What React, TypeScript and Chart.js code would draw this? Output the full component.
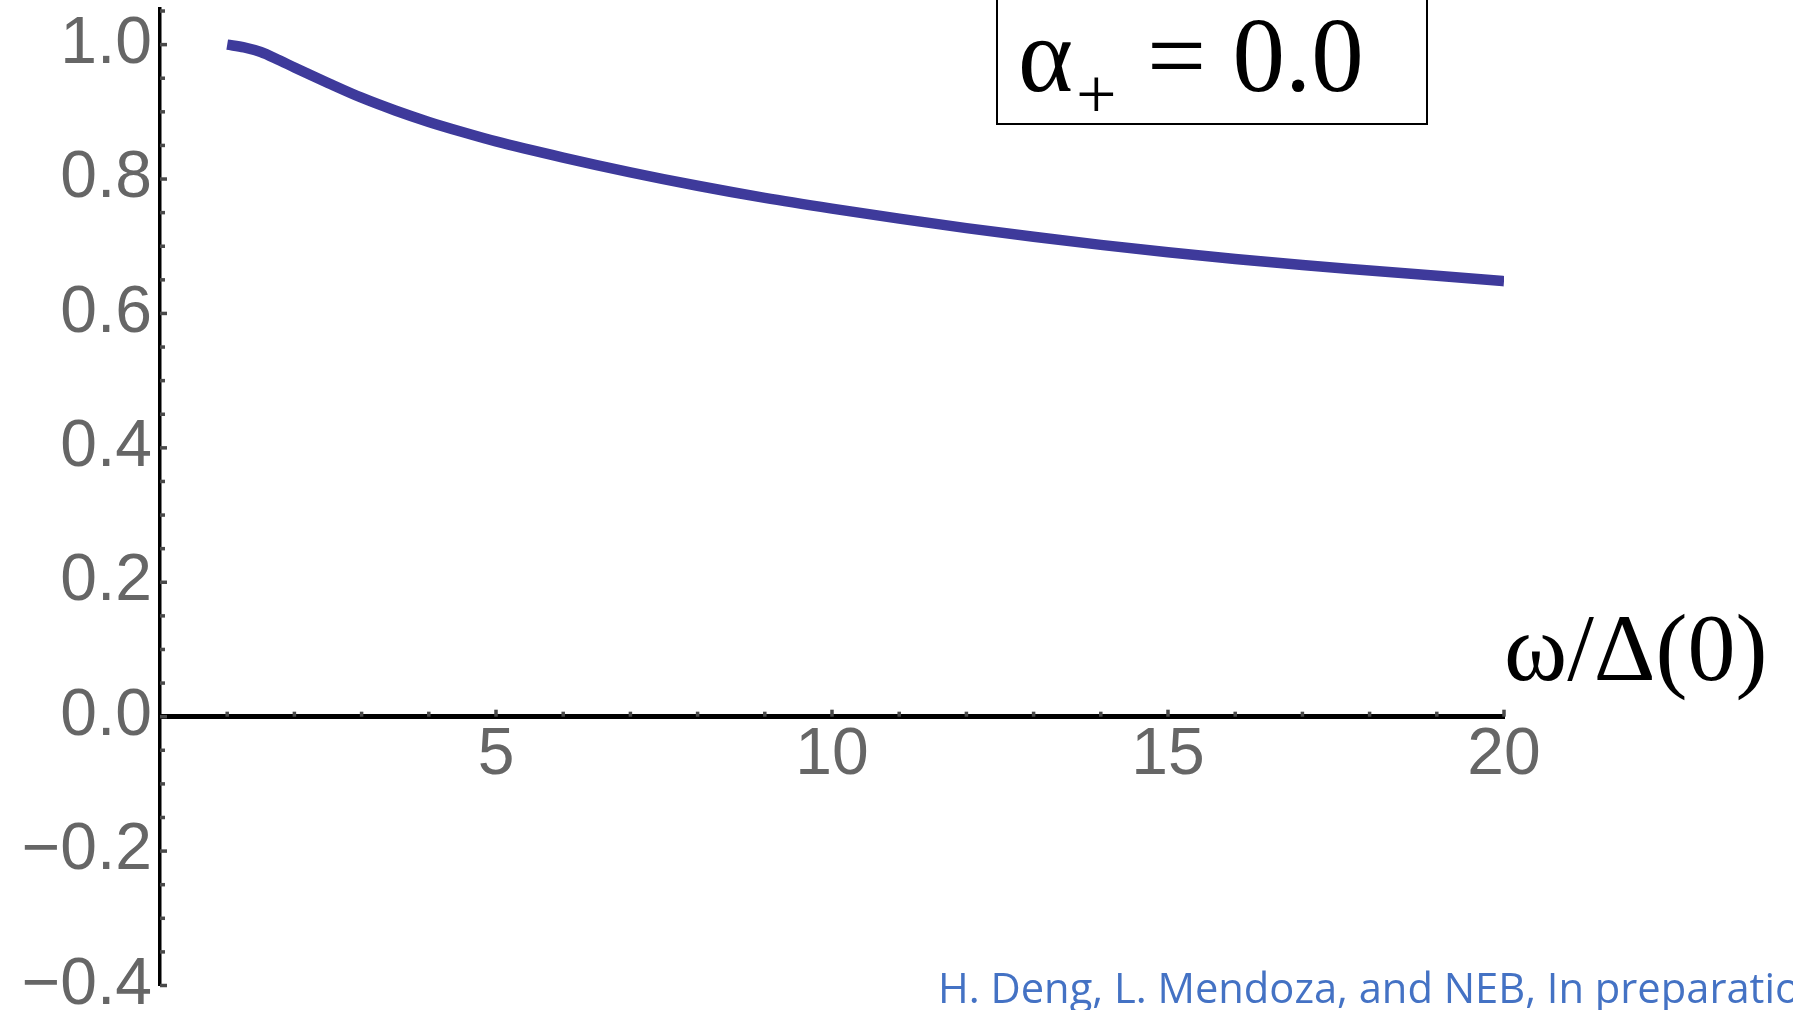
import React, { useEffect, useRef } from "react";
import { Chart, registerables } from "chart.js";

Chart.register(...registerables);

// Normalised response vs. reduced frequency ω/Δ(0)
const omega = [
  1, 1.25, 1.5, 1.75, 2, 2.5, 3, 3.5, 4, 4.5, 5, 6, 7, 8, 9, 10, 11, 12, 13, 14, 15, 16, 17, 18, 19, 20,
];
const response = [
  1.0, 0.996, 0.989, 0.978, 0.966, 0.943, 0.921, 0.902, 0.885, 0.87, 0.856, 0.832, 0.81, 0.79, 0.772, 0.756,
  0.741, 0.727, 0.714, 0.702, 0.691, 0.681, 0.672, 0.664, 0.656, 0.648,
];

// Axis ticks
const yMajorTicks = [-0.4, -0.2, 0, 0.2, 0.4, 0.6, 0.8, 1.0];
const yMinorStep = 0.05;
const xMajorTicks = [5, 10, 15, 20];
const xMinorStep = 1;

// Texts
const xAxisTitle = "ω/Δ(0)";
const paramSymbol = "α";
const paramSubscript = "+";
const paramValue = "= 0.0";
const citation = "H. Deng, L. Mendoza, and NEB, In preparation";

const W = 1793;
const H = 1010;

const fmtY = (v: number) => {
  const r = Math.round(v * 10) / 10;
  return (r < 0 ? "\u2212" : "") + Math.abs(r).toFixed(1);
};

const decorations = {
  id: "decorations",
  afterDraw(chart: any) {
    const { ctx, scales } = chart;
    const xs = scales.x;
    const ys = scales.y;
    const x0 = xs.getPixelForValue(0);
    const y0 = ys.getPixelForValue(0);

    ctx.save();
    // minor / major tick marks pointing into the plot
    ctx.strokeStyle = "#4a4a4a";
    ctx.lineWidth = 3.5;
    const yMin = ys.min;
    const yMax = ys.max;
    for (let k = Math.ceil(yMin / yMinorStep - 1e-6); k * yMinorStep <= yMax + 1e-6; k++) {
      const v = k * yMinorStep;
      const major = yMajorTicks.some((t) => Math.abs(t - v) < 1e-6);
      const py = ys.getPixelForValue(v);
      ctx.beginPath();
      ctx.moveTo(x0, py);
      ctx.lineTo(x0 + (major ? 7 : 5), py);
      ctx.stroke();
    }
    for (let k = 1; k * xMinorStep <= xs.max + 1e-6; k++) {
      const v = k * xMinorStep;
      const major = xMajorTicks.some((t) => Math.abs(t - v) < 1e-6);
      const px = xs.getPixelForValue(v);
      ctx.beginPath();
      ctx.moveTo(px, y0);
      ctx.lineTo(px, y0 - (major ? 7 : 5));
      ctx.stroke();
    }

    // horizontal axis title
    ctx.fillStyle = "#000";
    ctx.textBaseline = "alphabetic";
    ctx.textAlign = "left";
    ctx.font = '96px "Liberation Serif", "Times New Roman", serif';
    ctx.fillText(xAxisTitle, 1504, 680);

    // parameter box
    ctx.strokeStyle = "#000";
    ctx.lineWidth = 2;
    ctx.strokeRect(997, -10, 430, 134);
    ctx.font = '105px "Liberation Serif", "Times New Roman", serif';
    ctx.fillText(paramSymbol, 1018, 91);
    ctx.fillText(paramValue, 1147, 91);
    ctx.font = '72px "Liberation Serif", "Times New Roman", serif';
    ctx.fillText(paramSubscript, 1076, 118);

    // reference line at the bottom
    ctx.font = '42px "Open Sans", "Noto Sans", sans-serif';
    ctx.fillStyle = "#4472C4";
    const shown = citation.slice(0, citation.length - 1);
    const wText = ctx.measureText(shown).width;
    const sx = 862 / wText;
    ctx.translate(938, 1003);
    ctx.scale(sx, 1);
    ctx.fillText(citation, 0, 0);
    ctx.restore();
  },
};

export default function App() {
  const ref = useRef<HTMLCanvasElement | null>(null);

  useEffect(() => {
    document.body.style.margin = "0";
    const canvas = ref.current;
    if (!canvas) return;
    const chart = new Chart(canvas, {
      type: "line",
      data: {
        datasets: [
          {
            data: omega.map((x, i) => ({ x, y: response[i] })),
            borderColor: "#3e3a9b",
            borderWidth: 10.5,
            borderCapStyle: "butt",
            borderJoinStyle: "round",
            pointRadius: 0,
            cubicInterpolationMode: "monotone",
            fill: false,
          },
        ],
      },
      options: {
        animation: false,
        responsive: false,
        devicePixelRatio: 1,
        events: [],
        layout: { padding: { left: 0, right: 289, top: 9, bottom: 24.5 } },
        plugins: { legend: { display: false }, tooltip: { enabled: false }, title: { display: false } },
        scales: {
          x: {
            type: "linear",
            position: { y: 0 } as any,
            min: 0,
            max: 20,
            afterBuildTicks: (s: any) => {
              s.ticks = xMajorTicks.map((v) => ({ value: v }));
            },
            afterFit: (s: any) => {
              s.height = 0;
              s.paddingLeft = 0;
              s.paddingRight = 0;
              s.paddingTop = 0;
              s.paddingBottom = 0;
            },
            grid: { display: false, drawTicks: false },
            border: { display: true, color: "#000", width: 5 },
            ticks: {
              padding: 0,
              color: "#666",
              font: { family: '"Liberation Sans", Arial, sans-serif', size: 66 },
              maxRotation: 0,
              autoSkip: false,
              callback: (v: any) => String(v),
            },
          },
          y: {
            type: "linear",
            position: "left",
            min: -0.4,
            max: 1.053,
            afterBuildTicks: (s: any) => {
              s.ticks = yMajorTicks.map((v) => ({ value: v }));
            },
            afterFit: (s: any) => {
              s.width = 160;
              s.paddingLeft = 0;
              s.paddingRight = 0;
              s.paddingTop = 0;
              s.paddingBottom = 0;
            },
            grid: { display: false, drawTicks: false },
            border: { display: true, color: "#000", width: 3.5 },
            ticks: {
              padding: 8,
              color: "#666",
              font: { family: '"Liberation Sans", Arial, sans-serif', size: 66 },
              autoSkip: false,
              callback: (v: any) => fmtY(Number(v)),
            },
          },
        },
      },
      plugins: [decorations],
    });
    return () => chart.destroy();
  }, []);

  return (
    <div style={{ position: "relative", width: W, height: H, background: "#fff" }}>
      <canvas ref={ref} width={W} height={H} style={{ display: "block", width: W, height: H }} />
    </div>
  );
}
